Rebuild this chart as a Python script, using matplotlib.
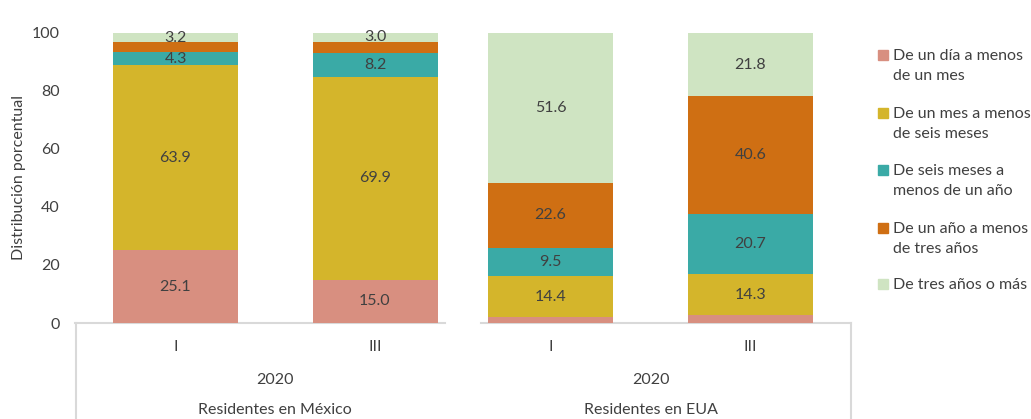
import matplotlib
matplotlib.use("Agg")
import matplotlib.pyplot as plt
from matplotlib.patches import Rectangle
from matplotlib.lines import Line2D

plt.rcParams['font.family'] = ['Lato', 'DejaVu Sans']

# ---- data ----
groups = ["Residentes en México", "Residentes en EUA"]
years = ["2020", "2020"]
periods = ["I", "III", "I", "III"]
series_names = ["De un día a menos\nde un mes",
                "De un mes a menos\nde seis meses",
                "De seis meses a\nmenos de un año",
                "De un año a menos\nde tres años",
                "De tres años o más"]
dia_mes = [25.1, 15.0, 1.9, 2.6]
mes_seis = [63.9, 69.9, 14.4, 14.3]
seis_anio = [4.3, 8.2, 9.5, 20.7]
anio_tres = [3.5, 3.9, 22.6, 40.6]
tres_mas = [3.2, 3.0, 51.6, 21.8]
series = [dia_mes, mes_seis, seis_anio, anio_tres, tres_mas]
# which segments carry a data label
show_label = [[True, True, False, False],
              [True, True, True, True],
              [True, True, True, True],
              [False, False, True, True],
              [True, True, True, True]]

colors = ["#D88F80", "#D4B52B", "#3AAAA6", "#CF6F13", "#CFE4C2"]
txt = "#404040"
fs = 11.5

W, H = 1031, 419
fig = plt.figure(figsize=(W / 100, H / 100), dpi=100)
ax_l, ax_r, ax_b, ax_t = 75, 851, 323, 33
ax = fig.add_axes([ax_l / W, (H - ax_b) / H, (ax_r - ax_l) / W, (ax_b - ax_t) / H])

xpos = [100.5, 300, 475.5, 675.5]
bw = 125
ax.set_xlim(0, ax_r - ax_l)
ax.set_ylim(0, 100)

bottom = [0, 0, 0, 0]
for s, vals in enumerate(series):
    ax.bar(xpos, vals, bw, bottom=bottom, color=colors[s], edgecolor="none", zorder=2)
    for i, (b, v) in enumerate(zip(bottom, vals)):
        if show_label[s][i]:
            ax.text(xpos[i], b + v / 2, f"{v:.1f}", ha="center", va="center",
                    fontsize=fs, color=txt, zorder=3)
    bottom = [b + v for b, v in zip(bottom, vals)]

for sp in ax.spines.values():
    sp.set_visible(False)
ax.set_xticks([])
ax.set_yticks([0, 20, 40, 60, 80, 100])
ax.tick_params(axis="y", length=0, labelsize=fs, labelcolor=txt, pad=11)
ax.set_ylabel("Distribución porcentual", fontsize=fs, color=txt, labelpad=4)

# broken x axis lines
axis_col = "#D9D9D9"
ax.plot([0, 370], [0, 0], color=axis_col, lw=1.5, clip_on=False, zorder=1)
ax.plot([406, 776], [0, 0], color=axis_col, lw=1.5, clip_on=False, zorder=1)
# vertical separators going down
for xp in [ax_l + 0.5, ax_r]:
    fig.add_artist(Line2D([xp / W, xp / W], [0, (H - ax_b) / H], color=axis_col, lw=1.5))


def fx(px):
    return px / W


def fy(py):
    return (H - py) / H


# category labels
for i, p in enumerate(periods):
    fig.text(fx(ax_l + xpos[i]), fy(347), p, ha="center", va="center", fontsize=fs, color=txt)
for g in range(2):
    cx = ax_l + (xpos[2 * g] + xpos[2 * g + 1]) / 2
    fig.text(fx(cx), fy(380), years[g], ha="center", va="center", fontsize=fs, color=txt)
    fig.text(fx(cx), fy(410), groups[g], ha="center", va="center", fontsize=fs, color=txt)

# legend (manual)
leg_y = [55, 113, 170, 228, 284]
for s, name in enumerate(series_names):
    y0 = leg_y[s]
    fig.add_artist(Rectangle((fx(878), fy(y0 + 5)), 10 / W, 10 / H, color=colors[s],
                             transform=fig.transFigure))
    fig.text(fx(893), fy(y0 - 6), name, ha="left", va="top", fontsize=fs, color=txt,
             linespacing=1.5)

fig.savefig("out.png", dpi=100)
